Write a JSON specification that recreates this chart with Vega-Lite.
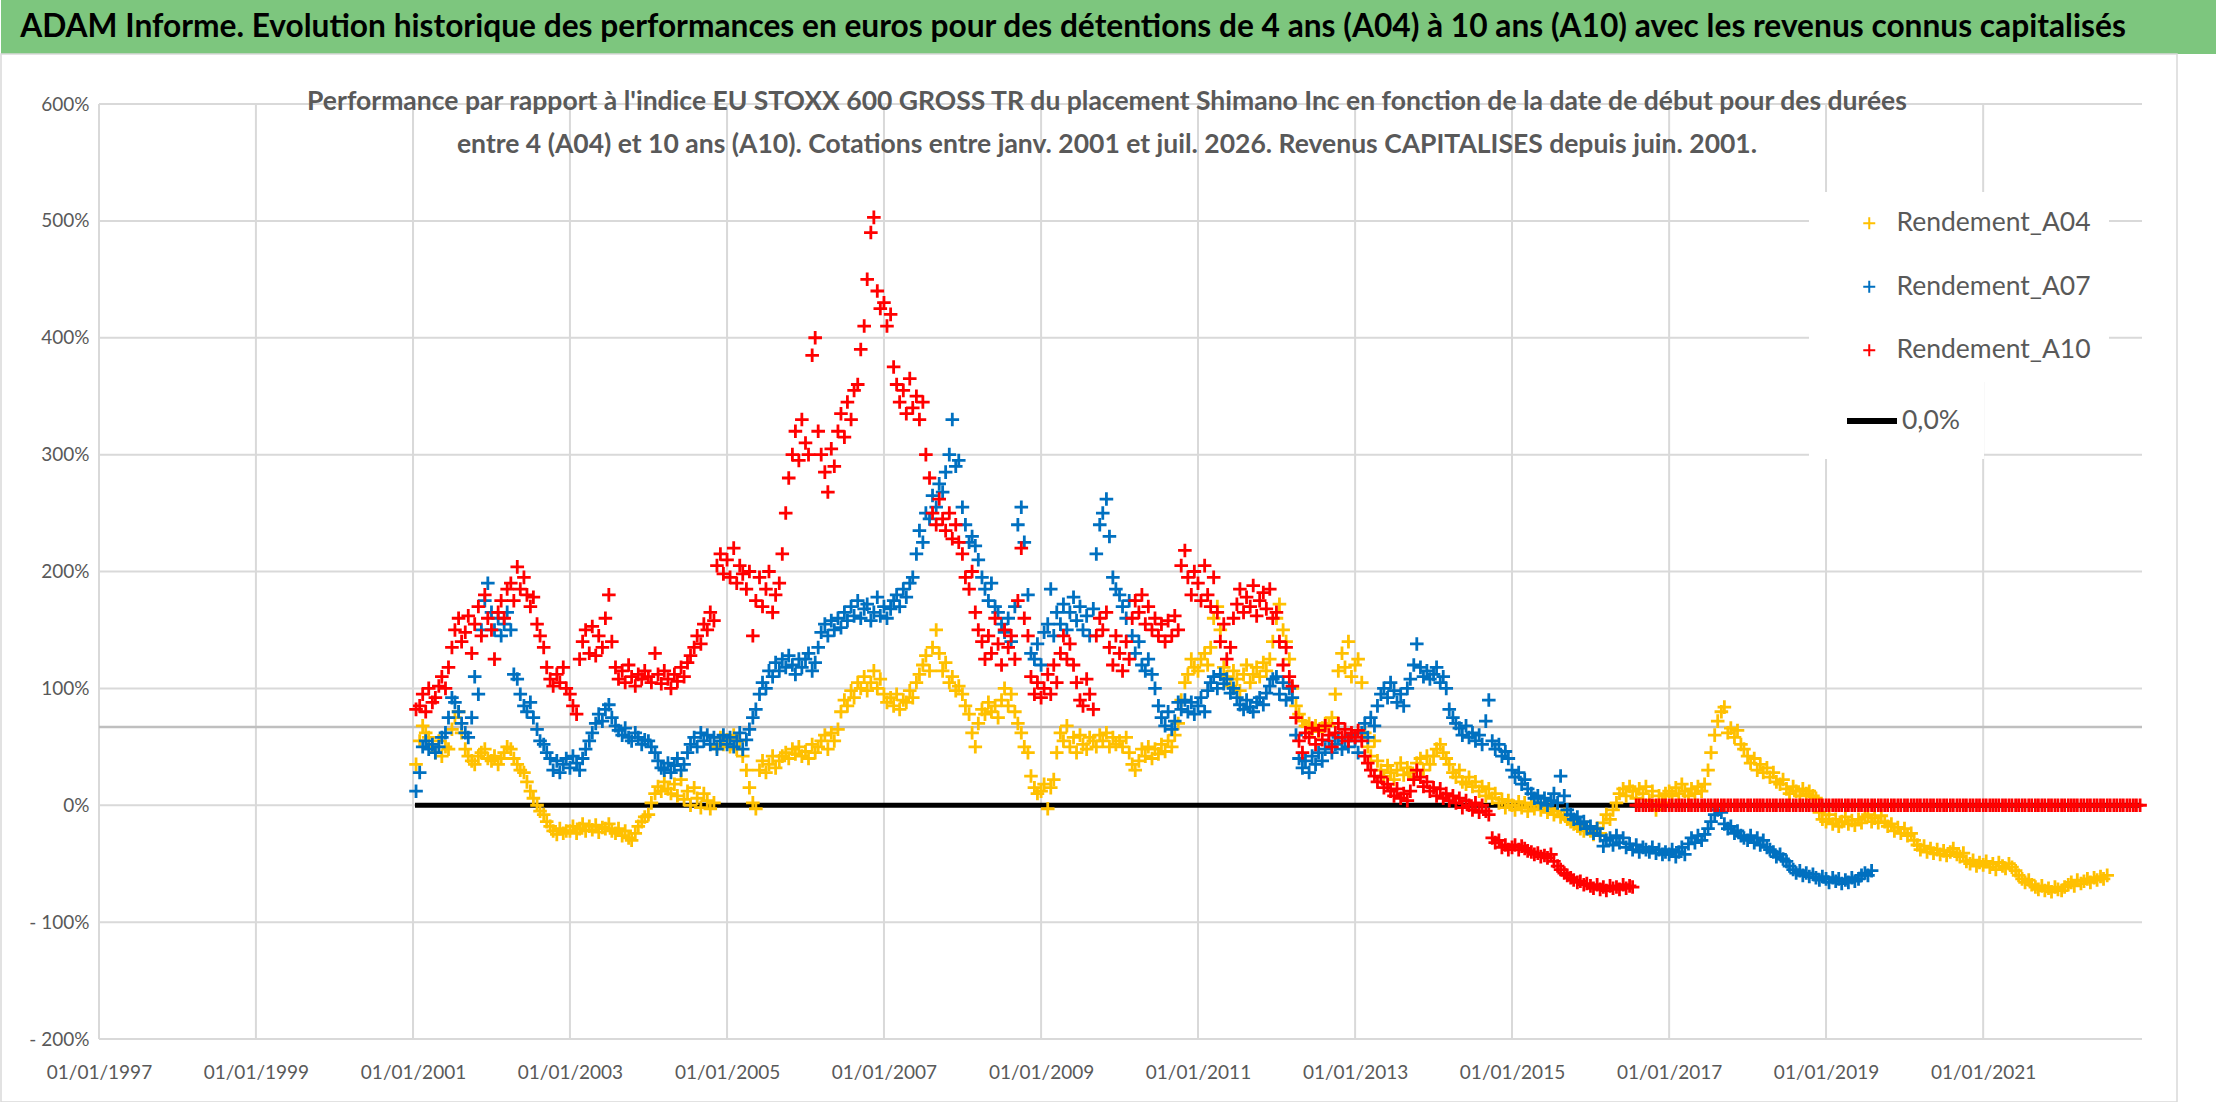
{
"$schema": "https://vega.github.io/schema/vega-lite/v6.json",
"autosize": {"type": "pad"},
"padding": 0,
"background": "white",
"spacing": 0,
"bounds": "flush",
"config": {"font": "Lato", "view": {"stroke": null}},
"vconcat": [
{
"width": 2216, "height": 54,
"view": {"fill": "#7dc67e", "stroke": null},
"data": {"values": [{"t": "ADAM Informe. Evolution historique des performances en euros pour des détentions de 4 ans (A04) à 10 ans (A10) avec les revenus connus capitalisés"}]},
"mark": {"type": "text", "font": "Lato", "fontSize": 31.7, "fontWeight": "bold", "color": "#000000", "baseline": "middle", "align": "center", "dx": -36},
"encoding": {"text": {"field": "t"}}
},
{
"width": 2176, "height": 1048,
"view": {"fill": "white", "stroke": "#d9d9d9", "strokeWidth": 1.5},
"title": {"text": ["Performance par rapport à l'indice EU STOXX 600 GROSS TR  du placement Shimano Inc en fonction de la date de début pour des durées", "entre 4 (A04) et 10 ans (A10). Cotations entre janv. 2001 et juil. 2026. Revenus CAPITALISES depuis juin. 2001."], "anchor": "middle", "frame": "group", "orient": "top", "offset": -104, "baseline": "top", "fontSize": 26.5, "fontWeight": "bold", "color": "#595959", "font": "Lato", "lineHeight": 43, "dx": 18},
"layer": [
{
"data": {"values": [{"g":-200},{"g":-100},{"g":0},{"g":100},{"g":200},{"g":300},{"g":400},{"g":500},{"g":600}]},
"mark": {"type": "rule", "color": "#d9d9d9", "strokeWidth": 2},
"encoding": {
"y": {"field": "g", "type": "quantitative", "scale": {"domain": [-200, 600], "range": [985, 50], "nice": false, "zero": false}},
"x": {"datum": {"year": 1997, "month": 1, "date": 1}, "type": "temporal", "scale": {"domain": [{"year": 1997, "month": 1, "date": 1}, {"year": 2023, "month": 1, "date": 10}], "range": [98, 2141]}},
"x2": {"datum": {"year": 2023, "month": 1, "date": 10}}
}
},
{
"data": {"values": [{"t":"1997-01-01"},{"t":"1999-01-01"},{"t":"2001-01-01"},{"t":"2003-01-01"},{"t":"2005-01-01"},{"t":"2007-01-01"},{"t":"2009-01-01"},{"t":"2011-01-01"},{"t":"2013-01-01"},{"t":"2015-01-01"},{"t":"2017-01-01"},{"t":"2019-01-01"},{"t":"2021-01-01"}]},
"mark": {"type": "rule", "color": "#d9d9d9", "strokeWidth": 2},
"encoding": {
"x": {"field": "t", "type": "temporal", "scale": {"domain": [{"year": 1997, "month": 1, "date": 1}, {"year": 2023, "month": 1, "date": 10}], "range": [98, 2141]}},
"y": {"datum": -200, "type": "quantitative", "scale": {"domain": [-200, 600], "range": [985, 50], "nice": false, "zero": false}},
"y2": {"datum": 600}
}
},
{
"data": {"values": [{"v": 67}]},
"mark": {"type": "rule", "color": "#bfbfbf", "strokeWidth": 2.5},
"encoding": {
"y": {"field": "v", "type": "quantitative", "scale": {"domain": [-200, 600], "range": [985, 50], "nice": false, "zero": false}},
"x": {"datum": {"year": 1997, "month": 1, "date": 1}, "type": "temporal", "scale": {"domain": [{"year": 1997, "month": 1, "date": 1}, {"year": 2023, "month": 1, "date": 10}], "range": [98, 2141]}},
"x2": {"datum": {"year": 2023, "month": 1, "date": 10}}
}
},
{
"data": {"values": [{"s": "2001-01-10", "e": "2023-01-01", "v": 0, "n": "0,0%"}]},
"mark": {"type": "rule", "color": "#000000", "strokeWidth": 5},
"encoding": {
"x": {"field": "s", "type": "temporal", "scale": {"domain": [{"year": 1997, "month": 1, "date": 1}, {"year": 2023, "month": 1, "date": 10}], "range": [98, 2141]}},
"x2": {"field": "e"},
"y": {"field": "v", "type": "quantitative", "scale": {"domain": [-200, 600], "range": [985, 50], "nice": false, "zero": false}},
"strokeDash": {"field": "n", "type": "nominal", "scale": {"domain": ["0,0%"], "range": [[1, 0]]},
"legend": {"title": null, "orient": "none", "legendX": 1808, "legendY": 369, "fillColor": "white", "padding": 24, "labelFontSize": 26.5, "labelLimit": 600, "labelColor": "#595959", "labelFont": "Lato", "symbolType": "stroke", "symbolSize": 2500, "symbolStrokeWidth": 6, "symbolStrokeColor": "#000000", "symbolOffset": 11, "labelOffset": 2, "labelExpr": "datum.label + '\u00a0\u00a0\u00a0\u00a0\u00a0\u00a0\u00a0\u00a0\u00a0\u00a0\u00a0\u00a0\u00a0\u00a0\u00a0\u00a0\u00a0\u00a0\u00a0\u00a0\u00a0\u00a0\u00a0\u00a0\u00a0\u00a0\u00a0\u00a0\u00a0\u00a0'"}}
}
},
{
"data": {"values": [
{"d":"2001-01-15","A04":35,"A07":12,"A10":82},
{"d":"2001-02-01","A04":55,"A07":28,"A10":85},
{"d":"2001-02-15","A04":68,"A07":50,"A10":95},
{"d":"2001-03-01","A04":62,"A07":55,"A10":80},
{"d":"2001-03-15","A04":58,"A07":48,"A10":100},
{"d":"2001-04-01","A04":50,"A07":52,"A10":88},
{"d":"2001-04-15","A04":45,"A07":45,"A10":92},
{"d":"2001-05-01","A04":55,"A07":50,"A10":102},
{"d":"2001-05-15","A04":42,"A07":58,"A10":110},
{"d":"2001-06-01","A04":50,"A07":62,"A10":100},
{"d":"2001-06-15","A04":48,"A07":75,"A10":118},
{"d":"2001-07-01","A04":65,"A07":92,"A10":135},
{"d":"2001-07-15","A04":75,"A07":88,"A10":150},
{"d":"2001-08-01","A04":80,"A07":80,"A10":160},
{"d":"2001-08-15","A04":62,"A07":70,"A10":140},
{"d":"2001-09-01","A04":48,"A07":62,"A10":148},
{"d":"2001-09-15","A04":42,"A07":58,"A10":162},
{"d":"2001-10-01","A04":38,"A07":75,"A10":130},
{"d":"2001-10-15","A04":35,"A07":110,"A10":155},
{"d":"2001-11-01","A04":42,"A07":95,"A10":170},
{"d":"2001-11-15","A04":45,"A07":150,"A10":145},
{"d":"2001-12-01","A04":48,"A07":175,"A10":180},
{"d":"2001-12-15","A04":40,"A07":190,"A10":160},
{"d":"2002-01-01","A04":38,"A07":165,"A10":150},
{"d":"2002-01-15","A04":42,"A07":150,"A10":125},
{"d":"2002-02-01","A04":35,"A07":160,"A10":165},
{"d":"2002-02-15","A04":40,"A07":145,"A10":175},
{"d":"2002-03-01","A04":45,"A07":155,"A10":160},
{"d":"2002-03-15","A04":50,"A07":165,"A10":185},
{"d":"2002-04-01","A04":48,"A07":150,"A10":190},
{"d":"2002-04-15","A04":40,"A07":112,"A10":175},
{"d":"2002-05-01","A04":35,"A07":108,"A10":204},
{"d":"2002-05-15","A04":30,"A07":95,"A10":185},
{"d":"2002-06-01","A04":28,"A07":85,"A10":195},
{"d":"2002-06-15","A04":20,"A07":80,"A10":180},
{"d":"2002-07-01","A04":12,"A07":88,"A10":170},
{"d":"2002-07-15","A04":6,"A07":75,"A10":178},
{"d":"2002-08-01","A04":0,"A07":65,"A10":155},
{"d":"2002-08-15","A04":-5,"A07":55,"A10":145},
{"d":"2002-09-01","A04":-8,"A07":52,"A10":135},
{"d":"2002-09-15","A04":-14,"A07":45,"A10":118},
{"d":"2002-10-01","A04":-18,"A07":40,"A10":108},
{"d":"2002-10-15","A04":-22,"A07":30,"A10":102},
{"d":"2002-11-01","A04":-25,"A07":38,"A10":112},
{"d":"2002-11-15","A04":-20,"A07":28,"A10":105},
{"d":"2002-12-01","A04":-24,"A07":35,"A10":118},
{"d":"2002-12-15","A04":-22,"A07":40,"A10":100},
{"d":"2003-01-01","A04":-22,"A07":32,"A10":95},
{"d":"2003-01-15","A04":-18,"A07":42,"A10":85},
{"d":"2003-02-01","A04":-24,"A07":36,"A10":78},
{"d":"2003-02-15","A04":-20,"A07":30,"A10":125},
{"d":"2003-03-01","A04":-16,"A07":40,"A10":140},
{"d":"2003-03-15","A04":-22,"A07":48,"A10":150},
{"d":"2003-04-01","A04":-18,"A07":55,"A10":130},
{"d":"2003-04-15","A04":-21,"A07":62,"A10":153},
{"d":"2003-05-01","A04":-17,"A07":70,"A10":128},
{"d":"2003-05-15","A04":-23,"A07":78,"A10":145},
{"d":"2003-06-01","A04":-19,"A07":72,"A10":135},
{"d":"2003-06-15","A04":-20,"A07":82,"A10":160},
{"d":"2003-07-01","A04":-16,"A07":86,"A10":180},
{"d":"2003-07-15","A04":-22,"A07":75,"A10":140},
{"d":"2003-08-01","A04":-24,"A07":68,"A10":118},
{"d":"2003-08-15","A04":-20,"A07":64,"A10":108},
{"d":"2003-09-01","A04":-26,"A07":60,"A10":115},
{"d":"2003-09-15","A04":-22,"A07":66,"A10":105},
{"d":"2003-10-01","A04":-28,"A07":58,"A10":120},
{"d":"2003-10-15","A04":-30,"A07":55,"A10":110},
{"d":"2003-11-01","A04":-24,"A07":62,"A10":102},
{"d":"2003-11-15","A04":-18,"A07":58,"A10":112},
{"d":"2003-12-01","A04":-14,"A07":52,"A10":108},
{"d":"2003-12-15","A04":-10,"A07":56,"A10":115},
{"d":"2004-01-01","A04":-8,"A07":55,"A10":110},
{"d":"2004-01-15","A04":2,"A07":50,"A10":105},
{"d":"2004-02-01","A04":10,"A07":45,"A10":130},
{"d":"2004-02-15","A04":16,"A07":38,"A10":112},
{"d":"2004-03-01","A04":12,"A07":32,"A10":104},
{"d":"2004-03-15","A04":20,"A07":30,"A10":115},
{"d":"2004-04-01","A04":14,"A07":36,"A10":108},
{"d":"2004-04-15","A04":10,"A07":28,"A10":100},
{"d":"2004-05-01","A04":18,"A07":34,"A10":112},
{"d":"2004-05-15","A04":8,"A07":40,"A10":106},
{"d":"2004-06-01","A04":22,"A07":30,"A10":118},
{"d":"2004-06-15","A04":5,"A07":35,"A10":110},
{"d":"2004-07-01","A04":12,"A07":45,"A10":122},
{"d":"2004-07-15","A04":0,"A07":52,"A10":128},
{"d":"2004-08-01","A04":15,"A07":58,"A10":135},
{"d":"2004-08-15","A04":6,"A07":50,"A10":145},
{"d":"2004-09-01","A04":-2,"A07":62,"A10":138},
{"d":"2004-09-15","A04":10,"A07":55,"A10":155},
{"d":"2004-10-01","A04":4,"A07":60,"A10":150},
{"d":"2004-10-15","A04":-3,"A07":52,"A10":165},
{"d":"2004-11-01","A04":2,"A07":58,"A10":158},
{"d":"2004-11-15","A04":50,"A07":48,"A10":205},
{"d":"2004-12-01","A04":58,"A07":55,"A10":215},
{"d":"2004-12-15","A04":52,"A07":60,"A10":198},
{"d":"2005-01-01","A04":56,"A07":52,"A10":210},
{"d":"2005-01-15","A04":50,"A07":58,"A10":195},
{"d":"2005-02-01","A04":60,"A07":50,"A10":220},
{"d":"2005-02-15","A04":48,"A07":55,"A10":190},
{"d":"2005-03-01","A04":55,"A07":62,"A10":205},
{"d":"2005-03-15","A04":42,"A07":48,"A10":198},
{"d":"2005-04-01","A04":30,"A07":56,"A10":185},
{"d":"2005-04-15","A04":15,"A07":65,"A10":200},
{"d":"2005-05-01","A04":2,"A07":75,"A10":145},
{"d":"2005-05-15","A04":-3,"A07":82,"A10":175},
{"d":"2005-06-01","A04":30,"A07":95,"A10":195},
{"d":"2005-06-15","A04":38,"A07":105,"A10":170},
{"d":"2005-07-01","A04":28,"A07":100,"A10":185},
{"d":"2005-07-15","A04":35,"A07":115,"A10":200},
{"d":"2005-08-01","A04":42,"A07":110,"A10":165},
{"d":"2005-08-15","A04":32,"A07":122,"A10":180},
{"d":"2005-09-01","A04":38,"A07":115,"A10":190},
{"d":"2005-09-15","A04":42,"A07":125,"A10":215},
{"d":"2005-10-01","A04":45,"A07":118,"A10":250},
{"d":"2005-10-15","A04":40,"A07":128,"A10":280},
{"d":"2005-11-01","A04":48,"A07":120,"A10":300},
{"d":"2005-11-15","A04":44,"A07":112,"A10":320},
{"d":"2005-12-01","A04":50,"A07":125,"A10":295},
{"d":"2005-12-15","A04":42,"A07":118,"A10":330},
{"d":"2006-01-01","A04":46,"A07":125,"A10":310},
{"d":"2006-01-15","A04":40,"A07":130,"A10":300},
{"d":"2006-02-01","A04":52,"A07":115,"A10":385},
{"d":"2006-02-15","A04":45,"A07":122,"A10":400},
{"d":"2006-03-01","A04":50,"A07":135,"A10":320},
{"d":"2006-03-15","A04":55,"A07":148,"A10":300},
{"d":"2006-04-01","A04":60,"A07":155,"A10":285},
{"d":"2006-04-15","A04":48,"A07":145,"A10":268},
{"d":"2006-05-01","A04":62,"A07":158,"A10":305},
{"d":"2006-05-15","A04":55,"A07":150,"A10":290},
{"d":"2006-06-01","A04":65,"A07":160,"A10":320},
{"d":"2006-06-15","A04":80,"A07":152,"A10":335},
{"d":"2006-07-01","A04":90,"A07":165,"A10":315},
{"d":"2006-07-15","A04":85,"A07":158,"A10":345},
{"d":"2006-08-01","A04":98,"A07":170,"A10":330},
{"d":"2006-08-15","A04":92,"A07":162,"A10":355},
{"d":"2006-09-01","A04":105,"A07":175,"A10":360},
{"d":"2006-09-15","A04":100,"A07":160,"A10":390},
{"d":"2006-10-01","A04":110,"A07":168,"A10":410},
{"d":"2006-10-15","A04":98,"A07":172,"A10":450},
{"d":"2006-11-01","A04":105,"A07":158,"A10":490},
{"d":"2006-11-15","A04":115,"A07":165,"A10":503},
{"d":"2006-12-01","A04":100,"A07":178,"A10":440},
{"d":"2006-12-15","A04":108,"A07":162,"A10":425},
{"d":"2007-01-01","A04":95,"A07":170,"A10":430},
{"d":"2007-01-15","A04":88,"A07":160,"A10":410},
{"d":"2007-02-01","A04":92,"A07":168,"A10":420},
{"d":"2007-02-15","A04":85,"A07":175,"A10":375},
{"d":"2007-03-01","A04":95,"A07":180,"A10":360},
{"d":"2007-03-15","A04":82,"A07":170,"A10":345},
{"d":"2007-04-01","A04":90,"A07":185,"A10":355},
{"d":"2007-04-15","A04":88,"A07":178,"A10":335},
{"d":"2007-05-01","A04":98,"A07":190,"A10":365},
{"d":"2007-05-15","A04":92,"A07":195,"A10":340},
{"d":"2007-06-01","A04":105,"A07":215,"A10":350},
{"d":"2007-06-15","A04":112,"A07":235,"A10":330},
{"d":"2007-07-01","A04":120,"A07":225,"A10":345},
{"d":"2007-07-15","A04":128,"A07":250,"A10":300},
{"d":"2007-08-01","A04":115,"A07":245,"A10":280},
{"d":"2007-08-15","A04":135,"A07":265,"A10":250},
{"d":"2007-09-01","A04":150,"A07":255,"A10":240},
{"d":"2007-09-15","A04":130,"A07":275,"A10":262},
{"d":"2007-10-01","A04":115,"A07":268,"A10":245},
{"d":"2007-10-15","A04":122,"A07":285,"A10":235},
{"d":"2007-11-01","A04":105,"A07":300,"A10":250},
{"d":"2007-11-15","A04":110,"A07":330,"A10":228},
{"d":"2007-12-01","A04":98,"A07":290,"A10":240},
{"d":"2007-12-15","A04":102,"A07":295,"A10":225},
{"d":"2008-01-01","A04":95,"A07":255,"A10":215},
{"d":"2008-01-15","A04":85,"A07":240,"A10":195},
{"d":"2008-02-01","A04":78,"A07":225,"A10":185},
{"d":"2008-02-15","A04":62,"A07":230,"A10":200},
{"d":"2008-03-01","A04":50,"A07":222,"A10":165},
{"d":"2008-03-15","A04":70,"A07":210,"A10":150},
{"d":"2008-04-01","A04":82,"A07":195,"A10":140},
{"d":"2008-04-15","A04":78,"A07":185,"A10":125},
{"d":"2008-05-01","A04":88,"A07":175,"A10":145},
{"d":"2008-05-15","A04":80,"A07":190,"A10":130},
{"d":"2008-06-01","A04":85,"A07":170,"A10":160},
{"d":"2008-06-15","A04":75,"A07":165,"A10":138},
{"d":"2008-07-01","A04":90,"A07":155,"A10":120},
{"d":"2008-07-15","A04":100,"A07":148,"A10":150},
{"d":"2008-08-01","A04":85,"A07":160,"A10":135},
{"d":"2008-08-15","A04":95,"A07":140,"A10":145},
{"d":"2008-09-01","A04":80,"A07":170,"A10":125},
{"d":"2008-09-15","A04":70,"A07":240,"A10":175},
{"d":"2008-10-01","A04":62,"A07":255,"A10":220},
{"d":"2008-10-15","A04":50,"A07":225,"A10":160},
{"d":"2008-11-01","A04":45,"A07":180,"A10":145},
{"d":"2008-11-15","A04":25,"A07":130,"A10":110},
{"d":"2008-12-01","A04":15,"A07":125,"A10":95},
{"d":"2008-12-15","A04":10,"A07":138,"A10":105},
{"d":"2009-01-01","A04":12,"A07":120,"A10":92},
{"d":"2009-01-15","A04":18,"A07":148,"A10":100},
{"d":"2009-02-01","A04":-3,"A07":155,"A10":112},
{"d":"2009-02-15","A04":15,"A07":185,"A10":95},
{"d":"2009-03-01","A04":22,"A07":145,"A10":120},
{"d":"2009-03-15","A04":45,"A07":165,"A10":105},
{"d":"2009-04-01","A04":62,"A07":155,"A10":130},
{"d":"2009-04-15","A04":55,"A07":172,"A10":145},
{"d":"2009-05-01","A04":68,"A07":150,"A10":125},
{"d":"2009-05-15","A04":50,"A07":165,"A10":138},
{"d":"2009-06-01","A04":58,"A07":178,"A10":120},
{"d":"2009-06-15","A04":45,"A07":158,"A10":105},
{"d":"2009-07-01","A04":60,"A07":170,"A10":90},
{"d":"2009-07-15","A04":52,"A07":150,"A10":85},
{"d":"2009-08-01","A04":48,"A07":162,"A10":108},
{"d":"2009-08-15","A04":58,"A07":145,"A10":95},
{"d":"2009-09-01","A04":55,"A07":168,"A10":82},
{"d":"2009-09-15","A04":50,"A07":215,"A10":145},
{"d":"2009-10-01","A04":60,"A07":240,"A10":160},
{"d":"2009-10-15","A04":55,"A07":250,"A10":150},
{"d":"2009-11-01","A04":62,"A07":262,"A10":165},
{"d":"2009-11-15","A04":50,"A07":230,"A10":135},
{"d":"2009-12-01","A04":58,"A07":195,"A10":120},
{"d":"2009-12-15","A04":52,"A07":185,"A10":145},
{"d":"2010-01-01","A04":55,"A07":180,"A10":130},
{"d":"2010-01-15","A04":50,"A07":170,"A10":115},
{"d":"2010-02-01","A04":58,"A07":160,"A10":140},
{"d":"2010-02-15","A04":45,"A07":175,"A10":125},
{"d":"2010-03-01","A04":35,"A07":145,"A10":160},
{"d":"2010-03-15","A04":30,"A07":130,"A10":175},
{"d":"2010-04-01","A04":38,"A07":140,"A10":165},
{"d":"2010-04-15","A04":48,"A07":120,"A10":180},
{"d":"2010-05-01","A04":42,"A07":115,"A10":155},
{"d":"2010-05-15","A04":50,"A07":125,"A10":170},
{"d":"2010-06-01","A04":40,"A07":112,"A10":150},
{"d":"2010-06-15","A04":48,"A07":100,"A10":160},
{"d":"2010-07-01","A04":44,"A07":85,"A10":145},
{"d":"2010-07-15","A04":52,"A07":75,"A10":155},
{"d":"2010-08-01","A04":46,"A07":68,"A10":140},
{"d":"2010-08-15","A04":55,"A07":80,"A10":158},
{"d":"2010-09-01","A04":50,"A07":65,"A10":145},
{"d":"2010-09-15","A04":60,"A07":72,"A10":162},
{"d":"2010-10-01","A04":70,"A07":88,"A10":150},
{"d":"2010-10-15","A04":90,"A07":82,"A10":205},
{"d":"2010-11-01","A04":105,"A07":90,"A10":218},
{"d":"2010-11-15","A04":112,"A07":80,"A10":195},
{"d":"2010-12-01","A04":125,"A07":88,"A10":180},
{"d":"2010-12-15","A04":118,"A07":78,"A10":200},
{"d":"2011-01-01","A04":115,"A07":85,"A10":190},
{"d":"2011-01-15","A04":125,"A07":92,"A10":175},
{"d":"2011-02-01","A04":130,"A07":80,"A10":205},
{"d":"2011-02-15","A04":120,"A07":98,"A10":180},
{"d":"2011-03-01","A04":135,"A07":105,"A10":170},
{"d":"2011-03-15","A04":160,"A07":110,"A10":195},
{"d":"2011-04-01","A04":170,"A07":100,"A10":165},
{"d":"2011-04-15","A04":150,"A07":112,"A10":140},
{"d":"2011-05-01","A04":118,"A07":104,"A10":155},
{"d":"2011-05-15","A04":110,"A07":108,"A10":125},
{"d":"2011-06-01","A04":102,"A07":96,"A10":135},
{"d":"2011-06-15","A04":115,"A07":100,"A10":160},
{"d":"2011-07-01","A04":108,"A07":92,"A10":172},
{"d":"2011-07-15","A04":98,"A07":86,"A10":185},
{"d":"2011-08-01","A04":112,"A07":82,"A10":165},
{"d":"2011-08-15","A04":120,"A07":90,"A10":178},
{"d":"2011-09-01","A04":105,"A07":84,"A10":170},
{"d":"2011-09-15","A04":112,"A07":80,"A10":188},
{"d":"2011-10-01","A04":118,"A07":88,"A10":162},
{"d":"2011-10-15","A04":110,"A07":92,"A10":175},
{"d":"2011-11-01","A04":122,"A07":86,"A10":182},
{"d":"2011-11-15","A04":115,"A07":96,"A10":168},
{"d":"2011-12-01","A04":125,"A07":102,"A10":185},
{"d":"2011-12-15","A04":140,"A07":108,"A10":160},
{"d":"2012-01-01","A04":160,"A07":110,"A10":165},
{"d":"2012-01-15","A04":172,"A07":95,"A10":140},
{"d":"2012-02-01","A04":150,"A07":105,"A10":120},
{"d":"2012-02-15","A04":140,"A07":90,"A10":135},
{"d":"2012-03-01","A04":125,"A07":100,"A10":110},
{"d":"2012-03-15","A04":100,"A07":92,"A10":102},
{"d":"2012-04-01","A04":85,"A07":60,"A10":75},
{"d":"2012-04-15","A04":78,"A07":40,"A10":55},
{"d":"2012-05-01","A04":72,"A07":32,"A10":45},
{"d":"2012-05-15","A04":68,"A07":38,"A10":62},
{"d":"2012-06-01","A04":70,"A07":28,"A10":58},
{"d":"2012-06-15","A04":65,"A07":42,"A10":66},
{"d":"2012-07-01","A04":68,"A07":35,"A10":52},
{"d":"2012-07-15","A04":63,"A07":45,"A10":64},
{"d":"2012-08-01","A04":66,"A07":38,"A10":56},
{"d":"2012-08-15","A04":70,"A07":48,"A10":68},
{"d":"2012-09-01","A04":68,"A07":55,"A10":60},
{"d":"2012-09-15","A04":75,"A07":45,"A10":50},
{"d":"2012-10-01","A04":95,"A07":52,"A10":62},
{"d":"2012-10-15","A04":115,"A07":58,"A10":70},
{"d":"2012-11-01","A04":130,"A07":48,"A10":58},
{"d":"2012-11-15","A04":118,"A07":55,"A10":65},
{"d":"2012-12-01","A04":140,"A07":50,"A10":55},
{"d":"2012-12-15","A04":110,"A07":60,"A10":62},
{"d":"2013-01-01","A04":120,"A07":55,"A10":58},
{"d":"2013-01-15","A04":125,"A07":45,"A10":64},
{"d":"2013-02-01","A04":105,"A07":62,"A10":55},
{"d":"2013-02-15","A04":62,"A07":70,"A10":42},
{"d":"2013-03-01","A04":50,"A07":58,"A10":36},
{"d":"2013-03-15","A04":42,"A07":75,"A10":30},
{"d":"2013-04-01","A04":55,"A07":68,"A10":25},
{"d":"2013-04-15","A04":38,"A07":85,"A10":20},
{"d":"2013-05-01","A04":30,"A07":95,"A10":24},
{"d":"2013-05-15","A04":25,"A07":100,"A10":15},
{"d":"2013-06-01","A04":34,"A07":92,"A10":18},
{"d":"2013-06-15","A04":28,"A07":105,"A10":12},
{"d":"2013-07-01","A04":22,"A07":98,"A10":8},
{"d":"2013-07-15","A04":30,"A07":88,"A10":14},
{"d":"2013-08-01","A04":36,"A07":95,"A10":6},
{"d":"2013-08-15","A04":26,"A07":85,"A10":10},
{"d":"2013-09-01","A04":32,"A07":100,"A10":4},
{"d":"2013-09-15","A04":28,"A07":108,"A10":12},
{"d":"2013-10-01","A04":24,"A07":120,"A10":22},
{"d":"2013-10-15","A04":36,"A07":138,"A10":30},
{"d":"2013-11-01","A04":40,"A07":118,"A10":24},
{"d":"2013-11-15","A04":30,"A07":110,"A10":16},
{"d":"2013-12-01","A04":42,"A07":115,"A10":20},
{"d":"2013-12-15","A04":35,"A07":108,"A10":12},
{"d":"2014-01-01","A04":42,"A07":112,"A10":15},
{"d":"2014-01-15","A04":48,"A07":118,"A10":8},
{"d":"2014-02-01","A04":52,"A07":105,"A10":14},
{"d":"2014-02-15","A04":45,"A07":110,"A10":6},
{"d":"2014-03-01","A04":40,"A07":100,"A10":10},
{"d":"2014-03-15","A04":35,"A07":82,"A10":4},
{"d":"2014-04-01","A04":28,"A07":75,"A10":8},
{"d":"2014-04-15","A04":24,"A07":70,"A10":2},
{"d":"2014-05-01","A04":30,"A07":66,"A10":6},
{"d":"2014-05-15","A04":20,"A07":60,"A10":-2},
{"d":"2014-06-01","A04":18,"A07":68,"A10":4},
{"d":"2014-06-15","A04":24,"A07":58,"A10":0},
{"d":"2014-07-01","A04":16,"A07":62,"A10":-4},
{"d":"2014-07-15","A04":20,"A07":55,"A10":2},
{"d":"2014-08-01","A04":12,"A07":60,"A10":-6},
{"d":"2014-08-15","A04":16,"A07":52,"A10":0},
{"d":"2014-09-01","A04":8,"A07":72,"A10":-5},
{"d":"2014-09-15","A04":14,"A07":90,"A10":-8},
{"d":"2014-10-01","A04":6,"A07":55,"A10":-28},
{"d":"2014-10-15","A04":10,"A07":48,"A10":-32},
{"d":"2014-11-01","A04":2,"A07":52,"A10":-30},
{"d":"2014-11-15","A04":5,"A07":42,"A10":-36},
{"d":"2014-12-01","A04":-2,"A07":46,"A10":-34},
{"d":"2014-12-15","A04":4,"A07":40,"A10":-38},
{"d":"2015-01-01","A04":0,"A07":30,"A10":-36},
{"d":"2015-01-15","A04":-4,"A07":24,"A10":-34},
{"d":"2015-02-01","A04":3,"A07":28,"A10":-38},
{"d":"2015-02-15","A04":-2,"A07":18,"A10":-35},
{"d":"2015-03-01","A04":2,"A07":22,"A10":-37},
{"d":"2015-03-15","A04":-5,"A07":14,"A10":-39},
{"d":"2015-04-01","A04":0,"A07":10,"A10":-40},
{"d":"2015-04-15","A04":-3,"A07":6,"A10":-42},
{"d":"2015-05-01","A04":2,"A07":8,"A10":-41},
{"d":"2015-05-15","A04":-4,"A07":2,"A10":-44},
{"d":"2015-06-01","A04":-1,"A07":6,"A10":-43},
{"d":"2015-06-15","A04":-6,"A07":0,"A10":-45},
{"d":"2015-07-01","A04":-3,"A07":4,"A10":-42},
{"d":"2015-07-15","A04":-8,"A07":10,"A10":-48},
{"d":"2015-08-01","A04":-5,"A07":2,"A10":-52},
{"d":"2015-08-15","A04":-10,"A07":25,"A10":-55},
{"d":"2015-09-01","A04":-8,"A07":8,"A10":-58},
{"d":"2015-09-15","A04":-12,"A07":-4,"A10":-60},
{"d":"2015-10-01","A04":-14,"A07":-8,"A10":-62},
{"d":"2015-10-15","A04":-16,"A07":-12,"A10":-64},
{"d":"2015-11-01","A04":-18,"A07":-10,"A10":-66},
{"d":"2015-11-15","A04":-20,"A07":-16,"A10":-65},
{"d":"2015-12-01","A04":-22,"A07":-14,"A10":-68},
{"d":"2015-12-15","A04":-19,"A07":-20,"A10":-67},
{"d":"2016-01-01","A04":-22,"A07":-18,"A10":-69},
{"d":"2016-01-15","A04":-25,"A07":-24,"A10":-71},
{"d":"2016-02-01","A04":-20,"A07":-20,"A10":-68},
{"d":"2016-02-15","A04":-24,"A07":-26,"A10":-72},
{"d":"2016-03-01","A04":-15,"A07":-35,"A10":-70},
{"d":"2016-03-15","A04":-8,"A07":-30,"A10":-73},
{"d":"2016-04-01","A04":-12,"A07":-28,"A10":-69},
{"d":"2016-04-15","A04":-4,"A07":-34,"A10":-71},
{"d":"2016-05-01","A04":2,"A07":-26,"A10":-70},
{"d":"2016-05-15","A04":10,"A07":-32,"A10":-72},
{"d":"2016-06-01","A04":14,"A07":-28,"A10":-68},
{"d":"2016-06-15","A04":8,"A07":-36,"A10":-71},
{"d":"2016-07-01","A04":16,"A07":-33,"A10":-69},
{"d":"2016-07-15","A04":12,"A07":-38,"A10":-70},
{"d":"2016-08-01","A04":6,"A07":-34,"A10":0},
{"d":"2016-08-15","A04":14,"A07":-40,"A10":0},
{"d":"2016-09-01","A04":10,"A07":-36,"A10":0},
{"d":"2016-09-15","A04":16,"A07":-38,"A10":0},
{"d":"2016-10-01","A04":4,"A07":-40,"A10":0},
{"d":"2016-10-15","A04":12,"A07":-36,"A10":0},
{"d":"2016-11-01","A04":-4,"A07":-41,"A10":0},
{"d":"2016-11-15","A04":8,"A07":-38,"A10":0},
{"d":"2016-12-01","A04":2,"A07":-42,"A10":0},
{"d":"2016-12-15","A04":10,"A07":-40,"A10":0},
{"d":"2017-01-01","A04":12,"A07":-42,"A10":0},
{"d":"2017-01-15","A04":8,"A07":-38,"A10":0},
{"d":"2017-02-01","A04":15,"A07":-44,"A10":0},
{"d":"2017-02-15","A04":10,"A07":-40,"A10":0},
{"d":"2017-03-01","A04":18,"A07":-36,"A10":0},
{"d":"2017-03-15","A04":12,"A07":-42,"A10":0},
{"d":"2017-04-01","A04":8,"A07":-33,"A10":0},
{"d":"2017-04-15","A04":14,"A07":-28,"A10":0},
{"d":"2017-05-01","A04":10,"A07":-32,"A10":0},
{"d":"2017-05-15","A04":16,"A07":-26,"A10":0},
{"d":"2017-06-01","A04":12,"A07":-30,"A10":0},
{"d":"2017-06-15","A04":18,"A07":-25,"A10":0},
{"d":"2017-07-01","A04":30,"A07":-20,"A10":0},
{"d":"2017-07-15","A04":45,"A07":-14,"A10":0},
{"d":"2017-08-01","A04":60,"A07":-8,"A10":0},
{"d":"2017-08-15","A04":72,"A07":-4,"A10":0},
{"d":"2017-09-01","A04":80,"A07":-6,"A10":0},
{"d":"2017-09-15","A04":84,"A07":-16,"A10":0},
{"d":"2017-10-01","A04":62,"A07":-20,"A10":0},
{"d":"2017-10-15","A04":66,"A07":-18,"A10":0},
{"d":"2017-11-01","A04":58,"A07":-24,"A10":0},
{"d":"2017-11-15","A04":64,"A07":-22,"A10":0},
{"d":"2017-12-01","A04":52,"A07":-26,"A10":0},
{"d":"2017-12-15","A04":48,"A07":-28,"A10":0},
{"d":"2018-01-01","A04":42,"A07":-30,"A10":0},
{"d":"2018-01-15","A04":36,"A07":-26,"A10":0},
{"d":"2018-02-01","A04":40,"A07":-32,"A10":0},
{"d":"2018-02-15","A04":30,"A07":-28,"A10":0},
{"d":"2018-03-01","A04":35,"A07":-34,"A10":0},
{"d":"2018-03-15","A04":28,"A07":-30,"A10":0},
{"d":"2018-04-01","A04":32,"A07":-36,"A10":0},
{"d":"2018-04-15","A04":24,"A07":-38,"A10":0},
{"d":"2018-05-01","A04":28,"A07":-40,"A10":0},
{"d":"2018-05-15","A04":20,"A07":-44,"A10":0},
{"d":"2018-06-01","A04":18,"A07":-42,"A10":0},
{"d":"2018-06-15","A04":22,"A07":-46,"A10":0},
{"d":"2018-07-01","A04":14,"A07":-48,"A10":0},
{"d":"2018-07-15","A04":10,"A07":-52,"A10":0},
{"d":"2018-08-01","A04":16,"A07":-55,"A10":0},
{"d":"2018-08-15","A04":12,"A07":-58,"A10":0},
{"d":"2018-09-01","A04":8,"A07":-56,"A10":0},
{"d":"2018-09-15","A04":14,"A07":-60,"A10":0},
{"d":"2018-10-01","A04":10,"A07":-58,"A10":0},
{"d":"2018-10-15","A04":12,"A07":-61,"A10":0},
{"d":"2018-11-01","A04":8,"A07":-59,"A10":0},
{"d":"2018-11-15","A04":6,"A07":-62,"A10":0},
{"d":"2018-12-01","A04":-6,"A07":-64,"A10":0},
{"d":"2018-12-15","A04":-12,"A07":-61,"A10":0},
{"d":"2019-01-01","A04":-14,"A07":-63,"A10":0},
{"d":"2019-01-15","A04":-8,"A07":-66,"A10":0},
{"d":"2019-02-01","A04":-16,"A07":-62,"A10":0},
{"d":"2019-02-15","A04":-12,"A07":-65,"A10":0},
{"d":"2019-03-01","A04":-18,"A07":-63,"A10":0},
{"d":"2019-03-15","A04":-14,"A07":-67,"A10":0},
{"d":"2019-04-01","A04":-10,"A07":-64,"A10":0},
{"d":"2019-04-15","A04":-16,"A07":-66,"A10":0},
{"d":"2019-05-01","A04":-13,"A07":-62,"A10":0},
{"d":"2019-05-15","A04":-17,"A07":-65,"A10":0},
{"d":"2019-06-01","A04":-12,"A07":-63,"A10":0},
{"d":"2019-06-15","A04":-15,"A07":-60,"A10":0},
{"d":"2019-07-01","A04":-10,"A07":-58,"A10":0},
{"d":"2019-07-15","A04":-8,"A07":-60,"A10":0},
{"d":"2019-08-01","A04":-14,"A07":-56,"A10":0},
{"d":"2019-08-15","A04":-11,"A10":0},
{"d":"2019-09-01","A04":-15,"A10":0},
{"d":"2019-09-15","A04":-9,"A10":0},
{"d":"2019-10-01","A04":-14,"A10":0},
{"d":"2019-10-15","A04":-18,"A10":0},
{"d":"2019-11-01","A04":-16,"A10":0},
{"d":"2019-11-15","A04":-22,"A10":0},
{"d":"2019-12-01","A04":-19,"A10":0},
{"d":"2019-12-15","A04":-24,"A10":0},
{"d":"2020-01-01","A04":-20,"A10":0},
{"d":"2020-01-15","A04":-26,"A10":0},
{"d":"2020-02-01","A04":-24,"A10":0},
{"d":"2020-02-15","A04":-30,"A10":0},
{"d":"2020-03-01","A04":-34,"A10":0},
{"d":"2020-03-15","A04":-38,"A10":0},
{"d":"2020-04-01","A04":-35,"A10":0},
{"d":"2020-04-15","A04":-40,"A10":0},
{"d":"2020-05-01","A04":-37,"A10":0},
{"d":"2020-05-15","A04":-41,"A10":0},
{"d":"2020-06-01","A04":-38,"A10":0},
{"d":"2020-06-15","A04":-42,"A10":0},
{"d":"2020-07-01","A04":-39,"A10":0},
{"d":"2020-07-15","A04":-43,"A10":0},
{"d":"2020-08-01","A04":-40,"A10":0},
{"d":"2020-08-15","A04":-37,"A10":0},
{"d":"2020-09-01","A04":-42,"A10":0},
{"d":"2020-09-15","A04":-44,"A10":0},
{"d":"2020-10-01","A04":-41,"A10":0},
{"d":"2020-10-15","A04":-48,"A10":0},
{"d":"2020-11-01","A04":-50,"A10":0},
{"d":"2020-11-15","A04":-47,"A10":0},
{"d":"2020-12-01","A04":-52,"A10":0},
{"d":"2020-12-15","A04":-49,"A10":0},
{"d":"2021-01-01","A04":-51,"A10":0},
{"d":"2021-01-15","A04":-48,"A10":0},
{"d":"2021-02-01","A04":-53,"A10":0},
{"d":"2021-02-15","A04":-50,"A10":0},
{"d":"2021-03-01","A04":-55,"A10":0},
{"d":"2021-03-15","A04":-49,"A10":0},
{"d":"2021-04-01","A04":-52,"A10":0},
{"d":"2021-04-15","A04":-54,"A10":0},
{"d":"2021-05-01","A04":-50,"A10":0},
{"d":"2021-05-15","A04":-53,"A10":0},
{"d":"2021-06-01","A04":-56,"A10":0},
{"d":"2021-06-15","A04":-60,"A10":0},
{"d":"2021-07-01","A04":-63,"A10":0},
{"d":"2021-07-15","A04":-66,"A10":0},
{"d":"2021-08-01","A04":-64,"A10":0},
{"d":"2021-08-15","A04":-68,"A10":0},
{"d":"2021-09-01","A04":-70,"A10":0},
{"d":"2021-09-15","A04":-72,"A10":0},
{"d":"2021-10-01","A04":-69,"A10":0},
{"d":"2021-10-15","A04":-73,"A10":0},
{"d":"2021-11-01","A04":-71,"A10":0},
{"d":"2021-11-15","A04":-74,"A10":0},
{"d":"2021-12-01","A04":-70,"A10":0},
{"d":"2021-12-15","A04":-72,"A10":0},
{"d":"2022-01-01","A04":-73,"A10":0},
{"d":"2022-01-15","A04":-70,"A10":0},
{"d":"2022-02-01","A04":-68,"A10":0},
{"d":"2022-02-15","A04":-66,"A10":0},
{"d":"2022-03-01","A04":-69,"A10":0},
{"d":"2022-03-15","A04":-64,"A10":0},
{"d":"2022-04-01","A04":-67,"A10":0},
{"d":"2022-04-15","A04":-65,"A10":0},
{"d":"2022-05-01","A04":-63,"A10":0},
{"d":"2022-05-15","A04":-66,"A10":0},
{"d":"2022-06-01","A04":-62,"A10":0},
{"d":"2022-06-15","A04":-64,"A10":0},
{"d":"2022-07-01","A04":-61,"A10":0},
{"d":"2022-07-15","A04":-63,"A10":0},
{"d":"2022-08-01","A04":-60,"A10":0},
{"d":"2022-08-15","A10":0},
{"d":"2022-09-01","A10":0},
{"d":"2022-09-15","A10":0},
{"d":"2022-10-01","A10":0},
{"d":"2022-10-15","A10":0},
{"d":"2022-11-01","A10":0},
{"d":"2022-11-15","A10":0},
{"d":"2022-12-01","A10":0},
{"d":"2022-12-15","A10":0},
{"d":"2023-01-01","A10":0}
]},
"transform": [{"fold": ["A04", "A07", "A10"], "as": ["s", "v"]}],
"mark": {"type": "point", "shape": "M-1,0H1M0,-1V1", "filled": false, "strokeWidth": 2.8, "size": 185, "opacity": 1},
"encoding": {
"x": {"field": "d", "type": "temporal", "scale": {"domain": [{"year": 1997, "month": 1, "date": 1}, {"year": 2023, "month": 1, "date": 10}], "range": [98, 2141]},
"axis": {"title": null, "values": [{"year":1997,"month":1,"date":1},{"year":1999,"month":1,"date":1},{"year":2001,"month":1,"date":1},{"year":2003,"month":1,"date":1},{"year":2005,"month":1,"date":1},{"year":2007,"month":1,"date":1},{"year":2009,"month":1,"date":1},{"year":2011,"month":1,"date":1},{"year":2013,"month":1,"date":1},{"year":2015,"month":1,"date":1},{"year":2017,"month":1,"date":1},{"year":2019,"month":1,"date":1},{"year":2021,"month":1,"date":1}], "format": "%d/%m/%Y", "grid": false, "domain": false, "ticks": false, "offset": -63, "labelPadding": 24, "labelFontSize": 19, "labelColor": "#595959", "labelFont": "Lato", "labelFlush": false, "labelOverlap": false}},
"y": {"field": "v", "type": "quantitative", "scale": {"domain": [-200, 600], "range": [985, 50], "nice": false, "zero": false},
"axis": {"title": null, "values": [-200, -100, 0, 100, 200, 300, 400, 500, 600], "labelExpr": "datum.value < 0 ? '- ' + abs(datum.value) + '%' : datum.value + '%'", "grid": false, "domain": false, "ticks": false, "offset": -98, "labelPadding": 10, "labelFontSize": 19, "labelColor": "#595959", "labelFont": "Lato"}},
"color": {"field": "s", "type": "nominal", "scale": {"domain": ["A04", "A07", "A10"], "range": ["#FFC000", "#0070C0", "#FF0000"]},
"legend": {"title": null, "orient": "none", "legendX": 1808, "legendY": 192, "fillColor": "white", "padding": 18, "labelFontSize": 26.5, "labelLimit": 400, "labelColor": "#595959", "labelFont": "Lato", "symbolSize": 144, "symbolStrokeWidth": 2, "symbolOffset": 29, "labelOffset": 14, "rowPadding": 36.5, "labelExpr": "'Rendement_' + datum.value"}},
"shape": {"field": "s", "type": "nominal", "scale": {"domain": ["A04", "A07", "A10"], "range": ["M-1,0H1M0,-1V1", "M-1,0H1M0,-1V1", "M-1,0H1M0,-1V1"]}},
"order": {"field": "s", "type": "ordinal"}
}
}
]
}
]
}
